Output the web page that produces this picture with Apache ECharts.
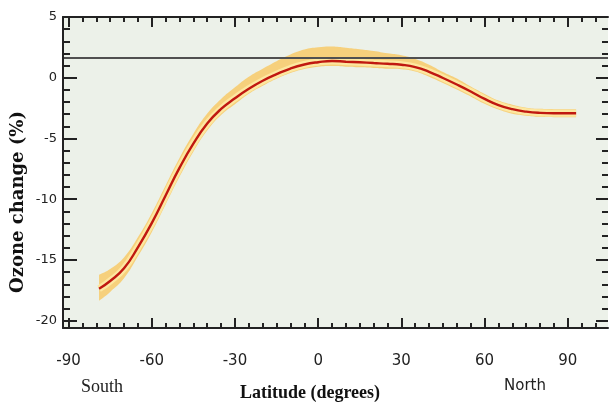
<!DOCTYPE html>
<html>
<head>
<meta charset="utf-8">
<script src="https://cdn.jsdelivr.net/npm/echarts@6/dist/echarts.min.js"></script>
<style>
  html, body { margin: 0; padding: 0; background: #fff; }
  #chart { width: 609px; height: 406px; }
</style>
</head>
<body>
<div id="chart"></div>
<script>
// latitude (degrees) of each sample
var latitude = [-79, -75, -70, -65, -60, -55, -50, -45, -40, -35, -30, -25, -20, -15, -10, -5,
  0, 5, 10, 15, 20, 25, 30, 35, 40, 45, 50, 55, 60, 65, 70, 75, 80, 85, 90, 93];
// ozone change (%) - mean line
var ozoneMean = [-17.37, -16.73, -15.69, -13.96, -11.97, -9.69, -7.42, -5.43, -3.77, -2.57, -1.69, -0.91, -0.25, 0.29, 0.76, 1.09,
  1.28, 1.38, 1.32, 1.27, 1.21, 1.15, 1.07, 0.88, 0.49, -0.02, -0.56, -1.13, -1.74, -2.25, -2.59, -2.79, -2.89, -2.92, -2.92, -2.92];
// uncertainty band
var ozoneHigh = [-16.22, -15.74, -14.79, -13.14, -11.15, -8.87, -6.60, -4.61, -2.95, -1.75, -0.79, 0.08, 0.74, 1.36, 1.91, 2.32,
  2.51, 2.57, 2.47, 2.34, 2.20, 2.01, 1.85, 1.54, 1.07, 0.47, -0.07, -0.72, -1.33, -1.88, -2.22, -2.46, -2.56, -2.59, -2.59, -2.59];
var ozoneLow = [-18.36, -17.63, -16.51, -14.70, -12.71, -10.43, -8.16, -6.09, -4.35, -3.06, -2.18, -1.32, -0.66, -0.08, 0.39, 0.72,
  0.91, 0.97, 0.91, 0.86, 0.80, 0.74, 0.70, 0.51, 0.08, -0.43, -0.97, -1.54, -2.15, -2.62, -2.96, -3.12, -3.22, -3.25, -3.25, -3.25];
var refLine = 1.63;

// ticks and labels
var xLabels = [-90, -60, -30, 0, 30, 60, 90];
var xMinor = [-90, -85, -80, -75, -70, -65, -60, -55, -50, -45, -40, -35, -30, -25, -20, -15, -10, -5,
  0, 5, 10, 15, 20, 25, 30, 35, 40, 45, 50, 55, 60, 65, 70, 75, 80, 85, 90, 95, 100];
var yLabels = [-20, -15, -10, -5, 0, 5];
var yMinor = [-20, -19, -18, -17, -16, -15, -14, -13, -12, -11, -10, -9, -8, -7, -6, -5, -4, -3, -2, -1, 0, 1, 2, 3, 4, 5];

var X_MIN = -92, X_MAX = 104.5, Y_MIN = -20.6, Y_MAX = 5;
var BG = '#ECF1E9';

function pairs(ys) {
  return latitude.map(function (x, i) { return [x, ys[i]]; });
}

var chart = echarts.init(document.getElementById('chart'));

var tickStyle = { color: '#222', width: 2 };
function xAx(pos, ticks, len, showLine) {
  return {
    type: 'value', position: pos, min: X_MIN, max: X_MAX, z: 10,
    axisLine: { show: !!showLine, onZero: false, lineStyle: { color: '#222', width: 2 } },
    axisTick: { show: true, inside: true, length: len, customValues: ticks, lineStyle: tickStyle },
    axisLabel: { show: false },
    splitLine: { show: false }
  };
}
function yAx(pos, ticks, len, showLine) {
  return {
    type: 'value', position: pos, min: Y_MIN, max: Y_MAX, z: 10,
    axisLine: { show: !!showLine, onZero: false, lineStyle: { color: '#222', width: 2 } },
    axisTick: { show: true, inside: true, length: len, customValues: ticks, lineStyle: tickStyle },
    axisLabel: { show: false },
    splitLine: { show: false }
  };
}

var xMain = xAx('bottom', xLabels, 10, true);
xMain.axisLabel = { show: true, customValues: xLabels, margin: 26, color: '#222', fontFamily: 'DejaVu Sans', fontSize: 15 };
var yMain = yAx('left', yLabels, 14, true);
yMain.axisLabel = { show: true, customValues: yLabels, margin: 6, color: '#222', fontFamily: 'DejaVu Sans', fontSize: 13 };

// band polygon: high edge left->right, low edge right->left.
// end points doubled so the smoothing keeps square ends
function renderBand(params, api) {
  if (params.dataIndex !== 0) return;
  var pts = [];
  var n = latitude.length;
  for (var i = 0; i < n; i++) {
    var p = api.coord([latitude[i], ozoneHigh[i]]);
    pts.push(p);
    if (i === 0 || i === n - 1) pts.push(p.slice());
  }
  for (var j = n - 1; j >= 0; j--) {
    var q = api.coord([latitude[j], ozoneLow[j]]);
    pts.push(q);
    if (j === 0 || j === n - 1) pts.push(q.slice());
  }
  return {
    type: 'polygon',
    shape: { points: pts, smooth: 0.45 },
    style: { fill: '#F6CD72', opacity: 0.92 }
  };
}

chart.setOption({
  animation: false,
  grid: {
    left: 63, right: 1, top: 17, bottom: 78,
    show: true, backgroundColor: BG, borderWidth: 0
  },
  xAxis: [
    xMain,
    xAx('bottom', xMinor, 5),
    xAx('top', xLabels, 10, true),
    xAx('top', xMinor, 5)
  ],
  yAxis: [
    yMain,
    yAx('left', yMinor, 7),
    yAx('right', yLabels, 12),
    yAx('right', yMinor, 6)
  ],
  series: [
    {
      // reference line under the band
      type: 'line', name: 'ref', symbol: 'none', data: [], z: 1,
      markLine: {
        silent: true, symbol: 'none', label: { show: false },
        lineStyle: { color: '#505050', width: 2, type: 'solid' },
        data: [{ yAxis: refLine }]
      }
    },
    {
      type: 'custom', name: 'band', renderItem: renderBand,
      data: pairs(ozoneMean), encode: { x: 0, y: 1 }, clip: true, z: 2
    },
    {
      type: 'line', name: 'glow', smooth: true, symbol: 'none',
      data: pairs(ozoneMean), lineStyle: { color: '#FDE7A0', width: 7 }, z: 4
    },
    {
      type: 'line', name: 'mean', smooth: true, symbol: 'none',
      data: pairs(ozoneMean), lineStyle: { color: '#C01810', width: 2.4 }, z: 5
    }
  ],
  graphic: [
    {
      type: 'text', x: 18, y: 202, rotation: Math.PI / 2,
      style: {
        text: 'Ozone change (%)', align: 'center', verticalAlign: 'middle',
        font: 'bold 18px "DejaVu Serif", "Liberation Serif", serif', fill: '#111'
      }
    },
    {
      type: 'text', x: 310, y: 393,
      style: {
        text: 'Latitude (degrees)', align: 'center', verticalAlign: 'middle',
        font: 'bold 18px "Liberation Serif", "DejaVu Serif", serif', fill: '#111'
      }
    },
    {
      type: 'text', x: 102, y: 387,
      style: {
        text: 'South', align: 'center', verticalAlign: 'middle',
        font: '18px "Liberation Serif", "DejaVu Serif", serif', fill: '#222'
      }
    },
    {
      type: 'text', x: 525, y: 386,
      style: {
        text: 'North', align: 'center', verticalAlign: 'middle',
        font: '15px "DejaVu Sans", sans-serif', fill: '#222'
      }
    }
  ]
});
</script>
</body>
</html>
